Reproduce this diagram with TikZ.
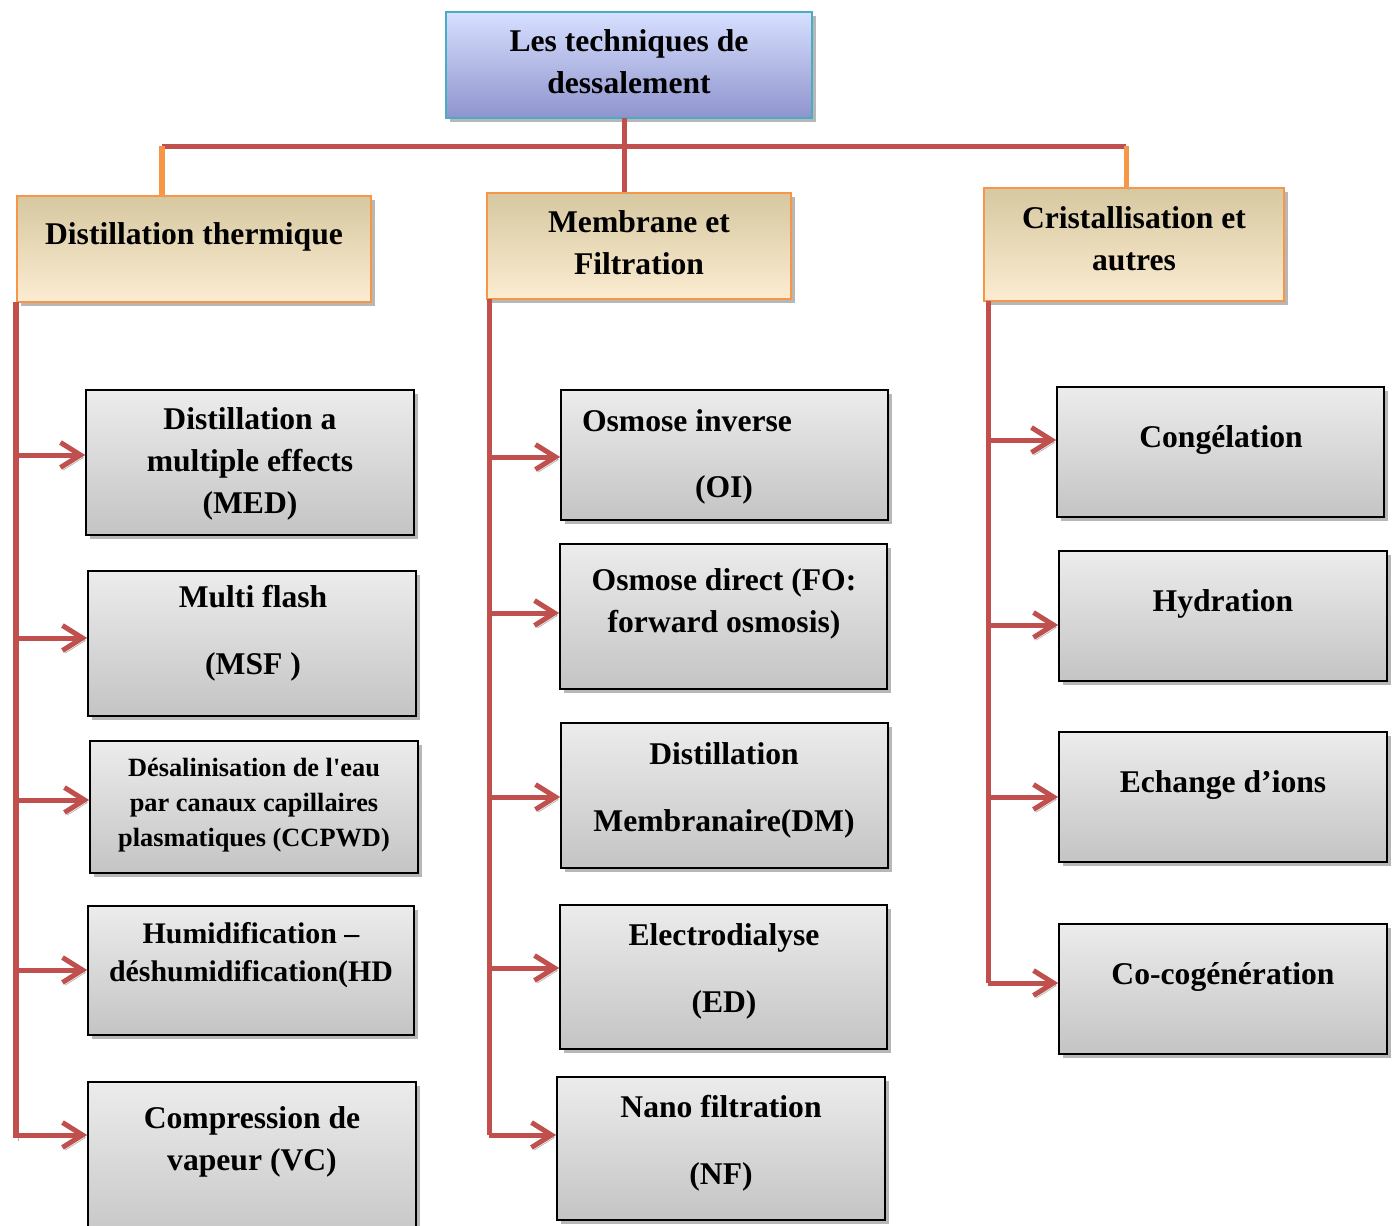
\documentclass[tikz,border=0pt]{standalone}
\usepackage{fontspec}
\setmainfont{Liberation Serif}
\usetikzlibrary{arrows.meta,shadows,fit}
\definecolor{brick}{RGB}{192, 80, 77}
\definecolor{tangerine}{RGB}{247, 150, 70}
\definecolor{lagoon}{RGB}{75, 172, 198}
\definecolor{periwinkle}{RGB}{214, 224, 255}
\definecolor{lavender}{RGB}{143, 148, 205}
\definecolor{sand}{RGB}{214, 200, 160}
\definecolor{cream}{RGB}{252, 236, 210}
\definecolor{silver}{RGB}{236, 236, 236}
\definecolor{ash}{RGB}{196, 196, 196}

\begin{document}
\begin{tikzpicture}[x=0.02cm, y=-0.02cm,
    box/.style     = {inner sep=0pt, drop shadow={shadow xshift=2pt, shadow yshift=-2pt, fill=black!40, opacity=0.7}},
    rootbox/.style = {box, draw=lagoon,    line width=1.2pt, top color=periwinkle, bottom color=lavender},
    headbox/.style = {box, draw=tangerine, line width=1.2pt, top color=sand,       bottom color=cream},
    leafbox/.style = {box, draw=black,     line width=0.9pt, top color=silver,     bottom color=ash},
    lbl/.style     = {align=center, inner sep=0pt, font=\bfseries\fontsize{18}{24}\selectfont},
    bus/.style     = {draw=brick, line width=2.85pt, preaction={draw=black!30, transform canvas={shift={(1.5pt,-1.5pt)}}}},
    stub/.style    = {bus, draw=tangerine},
    feed/.style    = {bus, -{Straight Barb[length=4mm, width=5mm]}}
]
    \fill[white] (0,0) rectangle (1394,1225);
    \useasboundingbox (0,0) rectangle (1394,1225);

    % root and the three families
    \node[rootbox, fit={( 446,  12) ( 812, 118)}] (root)  {};
    \node[headbox, fit={(  17, 196) ( 371, 302)}] (dt)    {};
    \node[headbox, fit={( 487, 193) ( 791, 299)}] (mf)    {};
    \node[headbox, fit={( 984, 188) (1284, 301)}] (ca)    {};

    % thermal column
    \node[leafbox, fit={(  86, 390) ( 414, 535)}] (med)   {};
    \node[leafbox, fit={(  88, 571) ( 416, 716)}] (msf)   {};
    \node[leafbox, fit={(  90, 741) ( 418, 873)}] (ccpwd) {};
    \node[leafbox, fit={(  88, 906) ( 414,1035)}] (hd)    {};
    \node[leafbox, fit={(  88,1082) ( 416,1250)}] (vc)    {};

    % membrane column
    \node[leafbox, fit={( 561, 390) ( 888, 520)}] (oi)    {};
    \node[leafbox, fit={( 560, 544) ( 887, 689)}] (fo)    {};
    \node[leafbox, fit={( 561, 723) ( 888, 868)}] (dm)    {};
    \node[leafbox, fit={( 560, 905) ( 887,1049)}] (ed)    {};
    \node[leafbox, fit={( 557,1077) ( 885,1220)}] (nf)    {};

    % crystallisation column
    \node[leafbox, fit={(1057, 387) (1384, 517)}] (cong)  {};
    \node[leafbox, fit={(1059, 551) (1387, 681)}] (hyd)   {};
    \node[leafbox, fit={(1059, 732) (1387, 862)}] (ech)   {};
    \node[leafbox, fit={(1059, 924) (1387,1054)}] (cocog) {};

    % texts
    \node[lbl] (root-t)  at ( 629,  62) {Les techniques de\\dessalement};
    \node[lbl] (dt-t)    at ( 194, 237) {Distillation thermique};
    \node[lbl] (mf-t)    at ( 639, 243) {Membrane et\\Filtration};
    \node[lbl] (ca-t)    at (1134, 239) {Cristallisation et\\autres};
    \node[lbl] (med-t)   at ( 250, 464) {Distillation a\\multiple effects\\(MED)};
    \node[lbl] (msf-t)   at ( 253, 633) {Multi flash\\[14pt](MSF )};
    \node[lbl, font=\bfseries\fontsize{15}{20}\selectfont]
               (ccpwd-t) at ( 254, 805) {Désalinisation de l\textquotesingle eau\\par canaux capillaires\\plasmatiques (CCPWD)};
    \node[lbl, font=\bfseries\fontsize{17}{22}\selectfont]
               (hd-t)    at ( 251, 955) {Humidification –\\déshumidification(HD};
    \node[lbl] (vc-t)    at ( 252,1142) {Compression de\\vapeur (VC)};
    \node[lbl] (oi-t)    at ( 724, 457) {Osmose inverse\hspace*{1.48cm}\\[14pt](OI)};
    \node[lbl] (fo-t)    at ( 724, 604) {Osmose direct (FO:\\forward osmosis)};
    \node[lbl] (dm-t)    at ( 724, 790) {Distillation\\[14pt]Membranaire(DM)};
    \node[lbl] (ed-t)    at ( 724, 971) {Electrodialyse\\[14pt](ED)};
    \node[lbl] (nf-t)    at ( 721,1143) {Nano filtration\\[14pt](NF)};
    \node[lbl] (cong-t)  at (1221, 440) {Congélation};
    \node[lbl] (hyd-t)   at (1223, 604) {Hydration};
    \node[lbl] (ech-t)   at (1223, 785) {Echange d’ions};
    \node[lbl] (cocog-t) at (1223, 977) {Co-cogénération};

    % top bus
    \coordinate (busl)  at ( 162, 146);
    \coordinate (busr)  at (1126, 146);
    \coordinate (drop)  at ( 624, 118);
    \draw[bus]  (busl) -- (busr);
    \draw[bus]  (drop) -- (drop |- mf.north);
    \draw[stub] (busl) -- (busl |- dt.north);
    \draw[stub] (busr) -- (busr |- ca.north);

    % trunks
    \coordinate (dt-trunk) at (  16, 302);
    \coordinate (mf-trunk) at ( 489, 299);
    \coordinate (ca-trunk) at ( 988, 301);
    \draw[bus] (dt-trunk) -- (dt-trunk |- 0,1138);
    \draw[bus] (mf-trunk) -- (mf-trunk |- 0,1135);
    \draw[bus] (ca-trunk) -- (ca-trunk |- 0, 983);

    % arrows
    \foreach \leaf/\y in {med/455, msf/638, ccpwd/800, hd/970, vc/1135}
        \draw[feed] (dt-trunk |- 0,\y) -- (\leaf.west |- 0,\y);
    \foreach \leaf/\y in {oi/457, fo/613, dm/797, ed/968, nf/1135}
        \draw[feed] (mf-trunk |- 0,\y) -- (\leaf.west |- 0,\y);
    \foreach \leaf/\y in {cong/440, hyd/625, ech/797, cocog/983}
        \draw[feed] (ca-trunk |- 0,\y) -- (\leaf.west |- 0,\y);
\end{tikzpicture}
\end{document}
